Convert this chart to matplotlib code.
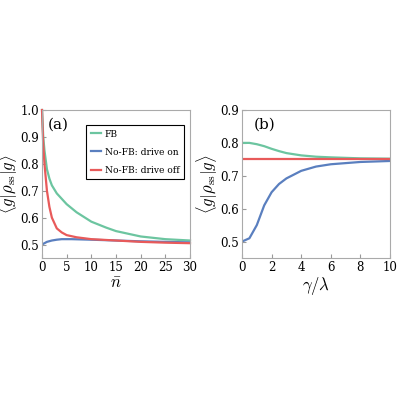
import matplotlib.pyplot as plt

plt.rcParams['mathtext.fontset'] = 'cm'
plt.rcParams['font.family'] = 'DejaVu Serif'

# panel (a)
n_fb = [0, 0.25, 0.5, 1, 1.5, 2, 3, 4, 5, 7, 10, 13, 15, 20, 25, 30]
fb_a = [1.0, 0.9, 0.85, 0.78, 0.745, 0.72, 0.69, 0.67, 0.65, 0.62, 0.585, 0.563, 0.55, 0.53, 0.52, 0.515]
n_off = [0, 0.25, 0.5, 1, 1.5, 2, 3, 4, 5, 7, 10, 15, 20, 25, 30]
off_a = [1.0, 0.87, 0.8, 0.7, 0.64, 0.6, 0.56, 0.545, 0.535, 0.527, 0.52, 0.515, 0.51, 0.507, 0.505]
n_on = [0, 1, 2, 3, 4, 6, 8, 10, 15, 20, 25, 30]
on_a = [0.5, 0.51, 0.515, 0.518, 0.52, 0.52, 0.519, 0.518, 0.515, 0.512, 0.51, 0.508]

# panel (b)
g = [0, 0.5, 1, 1.5, 2, 2.5, 3, 4, 5, 6, 8, 10]
fb_b = [0.8, 0.8, 0.796, 0.79, 0.782, 0.775, 0.769, 0.762, 0.758, 0.756, 0.753, 0.752]
on_b = [0.5, 0.51, 0.55, 0.61, 0.65, 0.675, 0.692, 0.715, 0.728, 0.735, 0.742, 0.745]
off_b = [0.75] * len(g)

GREEN, BLUE, RED = '#6cc5a0', '#5a7fbf', '#e85a5a'

fig = plt.figure(figsize=(4, 4), dpi=100)
ax1 = fig.add_axes([0.105, 0.355, 0.37, 0.37])
ax2 = fig.add_axes([0.605, 0.355, 0.37, 0.37])

ax1.plot(n_fb, fb_a, color=GREEN, lw=1.6, label='FB', clip_on=False)
ax1.plot(n_on, on_a, color=BLUE, lw=1.6, label='No-FB: drive on')
ax1.plot(n_off, off_a, color=RED, lw=1.6, label='No-FB: drive off', clip_on=False)
ax1.set_xlim(0, 30)
ax1.set_ylim(0.45, 1.0)
ax1.set_xticks([0, 5, 10, 15, 20, 25, 30])
ax1.set_yticks([0.5, 0.6, 0.7, 0.8, 0.9, 1.0])
ax1.set_xlabel(r'$\bar{n}$', fontsize=12, labelpad=1)
ax1.text(0.04, 0.95, '(a)', transform=ax1.transAxes, va='top', fontsize=11)
leg = ax1.legend(loc='upper right', bbox_to_anchor=(0.99, 0.93), fontsize=6.6, fancybox=False,
                 edgecolor='black', handlelength=1.1, handletextpad=0.4, borderpad=0.5,
                 labelspacing=1.0, framealpha=1)
leg.get_frame().set_linewidth(0.8)

ax2.plot(g, fb_b, color=GREEN, lw=1.6)
ax2.plot(g, on_b, color=BLUE, lw=1.6)
ax2.plot(g, off_b, color=RED, lw=1.6)
ax2.set_xlim(0, 10)
ax2.set_ylim(0.45, 0.9)
ax2.set_xticks([0, 2, 4, 6, 8, 10])
ax2.set_yticks([0.5, 0.6, 0.7, 0.8, 0.9])
ax2.set_xlabel(r'$\gamma/\lambda$', fontsize=12, labelpad=1)
ax2.text(0.08, 0.95, '(b)', transform=ax2.transAxes, va='top', fontsize=11)

for ax in (ax1, ax2):
    ax.set_ylabel(r'$\langle g|\rho_{\rm ss}|g\rangle$', fontsize=12, labelpad=0)
    ax.tick_params(direction='in', labelsize=8.5, color='#999999', length=3, pad=2)
    for s in ax.spines.values():
        s.set_color('#aaaaaa')

fig.savefig('out.png')
